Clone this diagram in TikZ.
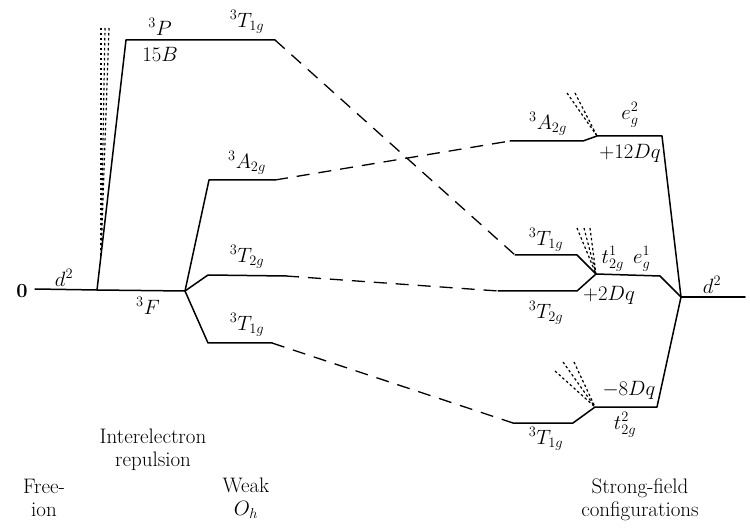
\documentclass[tikz,border=0pt]{standalone}
\begin{document}
\begin{tikzpicture}[x=1pt,y=-1pt,
  lvl/.style={line width=1.5pt, line join=round, line cap=round},
  corr/.style={line width=1.3pt, dash pattern=on 13pt off 9pt},
  dots/.style={line width=1.2pt, dash pattern=on 2.5pt off 2.5pt},
  lab/.style={font=\fontsize{20}{22}\selectfont, inner sep=0pt},
  txt/.style={font=\fontsize{21}{23}\selectfont, align=center, inner sep=0pt}]
\useasboundingbox (0,0) rectangle (750,529);
% level coordinates
\coordinate (z0) at (35,289);
\coordinate (fa) at (97,290);
\coordinate (fb) at (185,291);
\coordinate (pa) at (126,40);
\coordinate (pb) at (275,40);
\coordinate (wa1) at (209,180);
\coordinate (wa2) at (275,180);
\coordinate (wt2a) at (208,275);
\coordinate (wt2b) at (286,276);
\coordinate (wt1a) at (208,343);
\coordinate (wt1b) at (272,343);
\coordinate (sa1) at (510,141);
\coordinate (sa2) at (583,141);
\coordinate (se1) at (597,136);
\coordinate (se2) at (662,136);
\coordinate (st1a) at (515,255);
\coordinate (st1b) at (577,255);
\coordinate (sm1) at (596,274);
\coordinate (sm2) at (660,276);
\coordinate (st2a) at (498,291);
\coordinate (st2b) at (577,291);
\coordinate (sb1a) at (513,423);
\coordinate (sb1b) at (573,423);
\coordinate (sb1) at (595,407);
\coordinate (sb2) at (657,407);
\coordinate (dd) at (681,297);
\coordinate (dz) at (745,297);
% dotted lines
\coordinate (ld1) at (101,28);
\coordinate (ld2) at (105,28);
\coordinate (ld3) at (109,28);
\coordinate (ldb) at (101,256);
\coordinate (ad1) at (567,93);
\coordinate (ad2) at (575,93);
\coordinate (md1) at (577,228);
\coordinate (md2) at (584,228);
\coordinate (md3) at (590,228);
\coordinate (bd1) at (555,371);
\coordinate (bd2) at (563,362);
\coordinate (bd3) at (574,362);
% solid levels
\draw[lvl] (z0) -- (fa) -- (fb);
\draw[lvl] (fa) -- (pa) -- (pb);
\draw[lvl] (fb) -- (wa1) -- (wa2);
\draw[lvl] (fb) -- (wt2a) -- (wt2b);
\draw[lvl] (fb) -- (wt1a) -- (wt1b);
\draw[lvl] (sa1) -- (sa2) -- (se1) -- (se2) -- (dd);
\draw[lvl] (st1a) -- (st1b) -- (sm1) -- (sm2) -- (dd);
\draw[lvl] (st2a) -- (st2b) -- (sm1);
\draw[lvl] (sb1a) -- (sb1b) -- (sb1) -- (sb2) -- (dd);
\draw[lvl] (dd) -- (dz);
% correlation lines
\draw[corr] (pb) -- (st1a);
\draw[corr] (wa2) -- (sa1);
\draw[corr] (wt2b) -- (st2a);
\draw[corr] (wt1b) -- (sb1a);
% dotted lines
\foreach \p in {ld1,ld2,ld3} \draw[dots] (\p) -- (ldb);
\foreach \p in {ad1,ad2} \draw[dots] (\p) -- (se1);
\foreach \p in {md1,md2,md3} \draw[dots] (\p) -- (sm1);
\foreach \p in {bd1,bd2,bd3} \draw[dots] (\p) -- (sb1);
% labels
\node[lab, font=\fontsize{20}{22}\selectfont\bfseries] (l0) at (22,291) {0};
\node[lab] (ld) at (64,278) {$d^2$};
\node[lab] (lp) at (160,27) {$^3P$};
\node[lab] (l15) at (160,54) {$15B$};
\node[lab] (ltp) at (247,22) {$^3T_{1g}$};
\node[lab] (lf) at (148,306) {$^3F$};
\node[lab] (lwa) at (247,163) {$^3A_{2g}$};
\node[lab] (lwt2) at (247,257) {$^3T_{2g}$};
\node[lab] (lwt1) at (247,325) {$^3T_{1g}$};
\node[lab] (lsa) at (548,124) {$^3A_{2g}$};
\node[lab] (leg2) at (630,115) {$e_g^2$};
\node[lab] (l12) at (630,153) {$+12Dq$};
\node[lab] (lst1) at (546,240) {$^3T_{1g}$};
\node[lab] (lte) at (626,259) {$t_{2g}^1\;\,e_g^1$};
\node[lab] (l2) at (609,295) {$+2Dq$};
\node[lab] (ldr) at (712,285) {$d^2$};
\node[lab] (lst2) at (546,313) {$^3T_{2g}$};
\node[lab] (l8) at (629,390) {$-8Dq$};
\node[lab] (lt2) at (625,425) {$t_{2g}^2$};
\node[lab] (lsb) at (546,439) {$^3T_{1g}$};
\node[txt] (ie) at (153,450) {Interelectron\\repulsion};
\node[txt] (fi) at (44,498) {Free-\\ion};
\node[txt] (wk) at (246,498) {Weak\\$O_h$};
\node[txt] (sf) at (640,500) {Strong-field\\configurations};
\end{tikzpicture}
\end{document}
